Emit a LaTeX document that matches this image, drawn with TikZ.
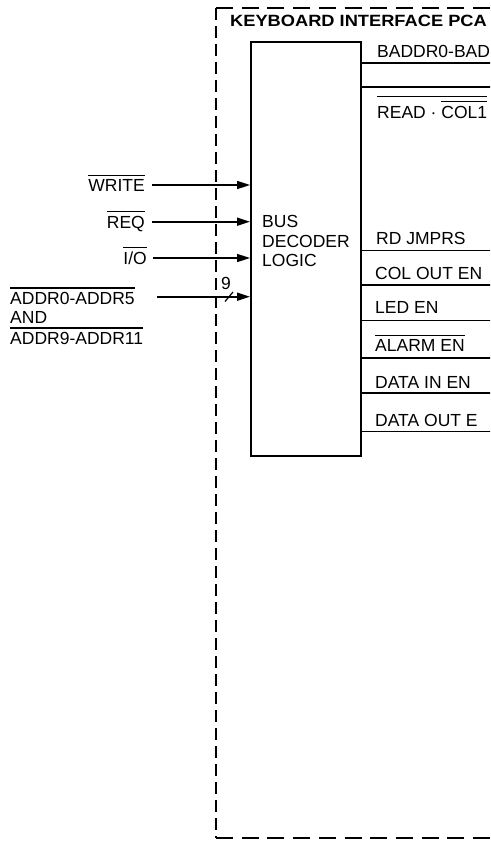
\documentclass[tikz,border=0pt]{standalone}
\usepackage{fontspec}
\setmainfont{Liberation Sans}
\usetikzlibrary{arrows.meta}
\newcommand\ovl[2][3.5pt]{\vbox{\hrule height 1.1pt\kern#1\hbox{#2}}}
\begin{document}
\begin{tikzpicture}[x=1pt,y=-1pt,
  lab/.style={inner sep=0pt, font=\fontsize{17.5}{19.5}\selectfont},
  ttlstyle/.style={inner sep=0pt, font=\bfseries\fontsize{16.3}{18}\selectfont},
  sig/.style={line width=1.6pt, -{Triangle[length=13pt,width=8pt]}},
  outline/.style={line width=1.1pt},
  frameh/.style={line width=2.4pt, dash pattern=on 17pt off 8.7pt},
  framev/.style={line width=2.4pt, dash pattern=on 12pt off 6pt},
  blockstyle/.style={draw, line width=2pt, inner sep=0pt, minimum width=110pt, minimum height=414pt, anchor=north west}]
\useasboundingbox (0,0) rectangle (490,848);
\clip (0,0) rectangle (490,848);
% frame
\coordinate (fTL) at (216,8);
\coordinate (fBL) at (216,838);
\coordinate (fTR) at (500,8);
\coordinate (fBR) at (500,838);
\draw[frameh] (fTL) -- (fTR);
\draw[frameh] (fBL) -- (fBR);
\draw[framev] (fTL) -- (fBL);
% title
\node[ttlstyle, anchor=base west] (ttl) at (230,26.5) {\scalebox{1.12}[1]{KEYBOARD INTERFACE PCA}};
% block
\node[blockstyle] (blk) at (250,41) {};
\node[lab, anchor=north west, align=left] (blab) at (262,215.4) {BUS\\DECODER\\LOGIC};
% outputs
\foreach \i/\yy in {1/63,2/87,3/250.7,4/285,5/320.7,6/358,7/393,8/431.7}{
  \coordinate (e\i) at (495,\yy);
  \draw[outline] (blk.east |- e\i) -- (e\i);
}
\node[lab, anchor=base west] (o1) at (377,58) {BADDR0-BAD};
\node[lab, anchor=base west] (o2) at (377,118) {\ovl[4.5pt]{READ · \ovl{COL1}}};
\node[lab, anchor=base west] (o3) at (376,244) {RD JMPRS};
\node[lab, anchor=base west] (o4) at (375,279.5) {COL OUT EN};
\node[lab, anchor=base west] (o5) at (375,313.5) {LED EN};
\node[lab, anchor=base west] (o6) at (375,351.5) {\ovl{ALARM EN}};
\node[lab, anchor=base west] (o7) at (375,388) {DATA IN EN};
\node[lab, anchor=base west] (o8) at (375,426) {DATA OUT E};
% inputs
\node[lab, anchor=base east] (iw) at (145,191.3) {\ovl{WRITE}};
\node[lab, anchor=base east] (ir) at (145,228) {\ovl{REQ}};
\node[lab, anchor=base east] (ii) at (147,264.3) {\ovl{I/O}};
\node[lab, anchor=base west] (ia1) at (10,304.3) {\ovl{ADDR0-ADDR5}};
\node[lab, anchor=base west] (ia2) at (10,323) {AND};
\node[lab, anchor=base west] (ia3) at (10,344.3) {\ovl{ADDR9-ADDR11}};
\coordinate (sw) at (152,185);
\coordinate (sr) at (152,221.7);
\coordinate (si) at (153,258);
\coordinate (sa) at (157,296.7);
\draw[sig] (sw) -- (sw -| blk.west);
\draw[sig] (sr) -- (sr -| blk.west);
\draw[sig] (si) -- (si -| blk.west);
\draw[sig] (sa) -- (sa -| blk.west);
% bus width mark
\node[lab, anchor=base west] (nine) at (221,289.3) {9};
\coordinate (sl1) at (225,301.5);
\coordinate (sl2) at (233,292);
\draw[line width=1.2pt] (sl1) -- (sl2);
\end{tikzpicture}
\end{document}
